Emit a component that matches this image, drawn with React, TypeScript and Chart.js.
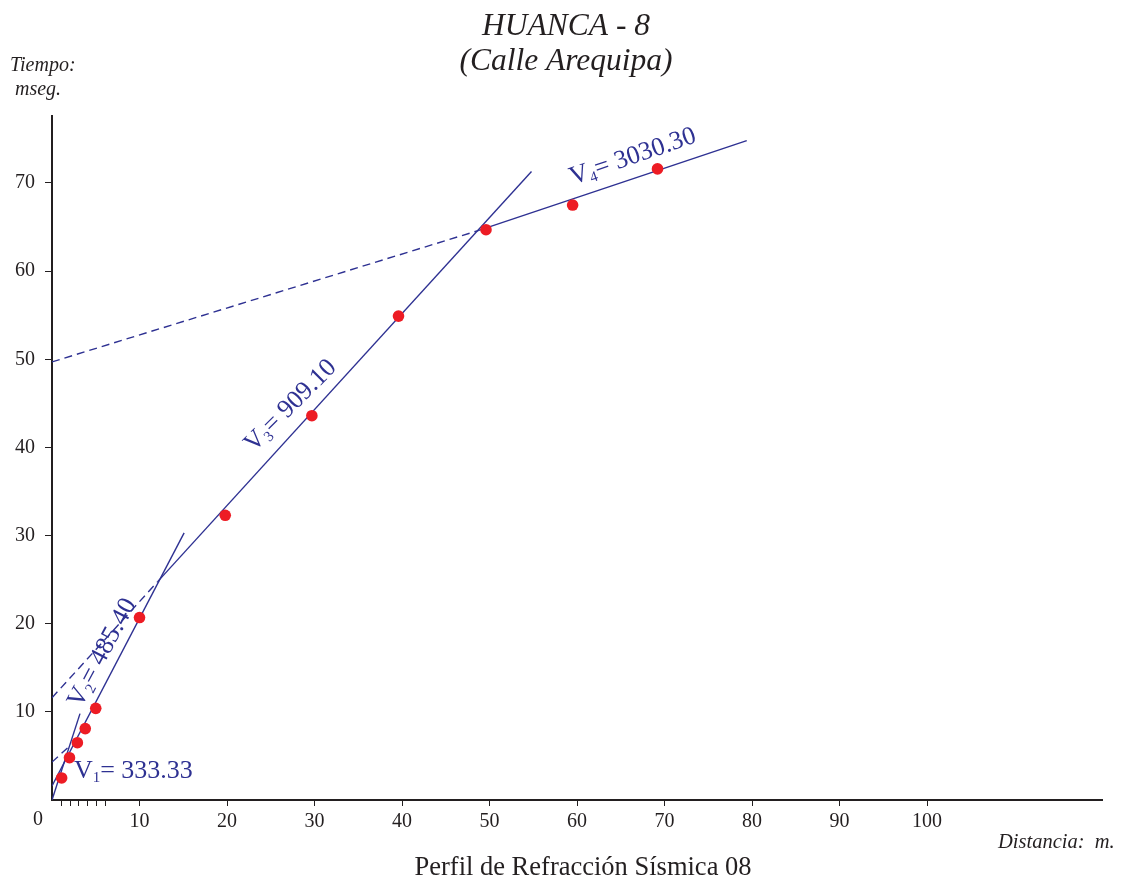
import React, { useEffect, useRef } from 'react';
import { Chart, registerables } from 'chart.js';

Chart.register(...registerables);

const SERIF = "'Liberation Serif', 'Times New Roman', Times, serif";
const BLUE = '#2e3192';
const RED = '#ed1c24';
const INK = '#231f20';

// Measured first arrivals
const distances = [1.1, 2.0, 2.9, 3.8, 5.0, 10.0, 19.8, 29.7, 39.6, 49.6, 59.5, 69.2];
const times = [2.5, 4.8, 6.5, 8.1, 10.4, 20.7, 32.3, 43.6, 54.9, 64.7, 67.5, 71.6];

// Axis ticks
const xTickLabels = [0, 10, 20, 30, 40, 50, 60, 70, 80, 90, 100];
const yTickLabels = [10, 20, 30, 40, 50, 60, 70];
const xMinorTicks = [1, 2, 3, 4, 5, 6];

// Travel-time lines [x, y] endpoints
const v1Solid = [[0, 0], [3.2, 9.8]];
const v2Solid = [[0, 1.6], [15.1, 30.3]];
const v2Dashed = [[0, 4.3], [2.2, 6.3]];
const v3Dashed = [[0, 11.6], [12.1, 24.8]];
const v3Solid = [[12.1, 24.8], [54.8, 71.3]];
const v4Dashed = [[0, 49.7], [48.7, 64.6]];
const v4Solid = [[48.7, 64.6], [79.4, 74.8]];

// Velocity labels
const velocityNames = ['1', '2', '3', '4'];
const velocityValues = ['333.33', '485.40', '909.10', '3030.30'];

// Label anchors (data coordinates) and angles
const labelAnchors = [
  { x: 2.5, y: 2.5, angle: 0, mode: 'start' },
  { x: 5.55, y: 16.8, angle: -62, mode: 'center' },
  { x: 27.1, y: 44.9, angle: -45, mode: 'center' },
  { x: 66.3, y: 73.2, angle: -19, mode: 'center' },
];

const toPts = (seg: number[][]) => seg.map(([x, y]) => ({ x, y }));

const textPlugin = {
  id: 'refractionText',
  afterDraw(chart: any) {
    const ctx = chart.ctx as CanvasRenderingContext2D;
    const xs = chart.scales.x;
    const ys = chart.scales.y;
    const area = chart.chartArea;
    ctx.save();
    // minor ticks
    ctx.strokeStyle = INK;
    ctx.lineWidth = 1;
    xMinorTicks.forEach((v) => {
      const px = Math.round(xs.getPixelForValue(v)) + 0.5;
      ctx.beginPath();
      ctx.moveTo(px, area.bottom);
      ctx.lineTo(px, area.bottom + 6);
      ctx.stroke();
    });
    // "0" label offset left
    ctx.fillStyle = INK;
    ctx.font = `20px ${SERIF}`;
    ctx.textAlign = 'center';
    ctx.textBaseline = 'alphabetic';
    ctx.fillText('0', xs.getPixelForValue(0) - 14, 825);

    // Titles
    ctx.font = `italic 31.5px ${SERIF}`;
    ctx.fillText('HUANCA - 8', 566, 35);
    ctx.fillText('(Calle Arequipa)', 566, 70);
    ctx.font = `26.5px ${SERIF}`;
    ctx.fillText('Perfil de Refracción Sísmica 08', 583, 875);
    ctx.font = `italic 20px ${SERIF}`;
    ctx.textAlign = 'left';
    ctx.fillText('Tiempo:', 10, 71);
    ctx.fillText('mseg.', 15, 95);
    ctx.font = `italic 20.5px ${SERIF}`;
    ctx.fillText('Distancia:  m.', 998, 848);

    // velocity labels
    ctx.fillStyle = BLUE;
    const big = `26px ${SERIF}`;
    const small = `15px ${SERIF}`;
    labelAnchors.forEach((a, i) => {
      const px = xs.getPixelForValue(a.x);
      const py = ys.getPixelForValue(a.y);
      ctx.save();
      ctx.translate(px, py);
      ctx.rotate((a.angle * Math.PI) / 180);
      ctx.textAlign = 'left';
      ctx.textBaseline = 'alphabetic';
      ctx.font = big;
      const wV = ctx.measureText('V').width;
      const rest = '= ' + velocityValues[i];
      const wR = ctx.measureText(rest).width;
      ctx.font = small;
      const wS = ctx.measureText(velocityNames[i]).width;
      const total = wV + wS + wR;
      let x0 = 0;
      let base = 0;
      if (a.mode === 'center') {
        x0 = -total / 2;
        base = 9;
      }
      ctx.font = big;
      ctx.fillText('V', x0, base);
      ctx.font = small;
      ctx.fillText(velocityNames[i], x0 + wV, base + 4);
      ctx.font = big;
      ctx.fillText(rest, x0 + wV + wS, base);
      ctx.restore();
    });
    ctx.restore();
  },
};

export default function App() {
  const ref = useRef<HTMLCanvasElement>(null);
  useEffect(() => {
    const canvas = ref.current!;
    const lineDs = (seg: number[][], dashed: boolean) => ({
      type: 'line' as const,
      data: toPts(seg),
      showLine: true,
      borderColor: BLUE,
      borderWidth: 1.4,
      borderDash: dashed ? [8, 5] : [],
      pointRadius: 0,
      fill: false,
    });
    const chart = new Chart(canvas, {
      type: 'scatter',
      data: {
        datasets: [
          {
            data: distances.map((d, i) => ({ x: d, y: times[i] })),
            pointRadius: 5.8,
            pointBackgroundColor: RED,
            pointBorderWidth: 0,
            showLine: false,
          } as any,
          lineDs(v1Solid, false),
          lineDs(v2Solid, false),
          lineDs(v2Dashed, true),
          lineDs(v3Dashed, true),
          lineDs(v3Solid, false),
          lineDs(v4Dashed, true),
          lineDs(v4Solid, false),
        ],
      },
      options: {
        animation: false,
        responsive: false,
        devicePixelRatio: 1,
        layout: { padding: { left: 0, top: 116, right: 23, bottom: 0 } },
        plugins: {
          legend: { display: false },
          tooltip: { enabled: false },
          title: { display: false },
        },
        scales: {
          x: {
            type: 'linear',
            min: 0,
            max: 120,
            afterFit: (s: any) => {
              s.height = 82;
            },
            border: { color: INK, width: 2 },
            grid: {
              drawOnChartArea: false,
              drawTicks: true,
              tickLength: 6,
              lineWidth: 1,
              color: (c: any) =>
                c.tick && c.tick.value > 0 && xTickLabels.includes(c.tick.value) ? INK : 'rgba(0,0,0,0)',
            },
            ticks: {
              stepSize: 10,
              autoSkip: false,
              maxRotation: 0,
              padding: 4,
              color: INK,
              font: { family: SERIF, size: 20 },
              callback: (v: any) => (xTickLabels.includes(v) && v !== 0 ? String(v) : ''),
            },
          },
          y: {
            type: 'linear',
            min: 0,
            max: 77.6,
            afterFit: (s: any) => {
              s.width = 52;
            },
            border: { color: INK, width: 2 },
            grid: {
              drawOnChartArea: false,
              drawTicks: true,
              tickLength: 7,
              lineWidth: 1,
              color: (c: any) => (c.tick && yTickLabels.includes(c.tick.value) ? INK : 'rgba(0,0,0,0)'),
            },
            ticks: {
              stepSize: 10,
              autoSkip: false,
              padding: 10,
              color: INK,
              font: { family: SERIF, size: 20 },
              callback: (v: any) => (yTickLabels.includes(v) ? String(v) : ''),
            },
          },
        },
      } as any,
      plugins: [textPlugin],
    });
    return () => chart.destroy();
  }, []);
  return (
    <div style={{ position: 'absolute', left: 0, top: 0, width: 1125, height: 882, background: '#fff' }}>
      <canvas ref={ref} width={1125} height={882} style={{ display: 'block' }} />
    </div>
  );
}
